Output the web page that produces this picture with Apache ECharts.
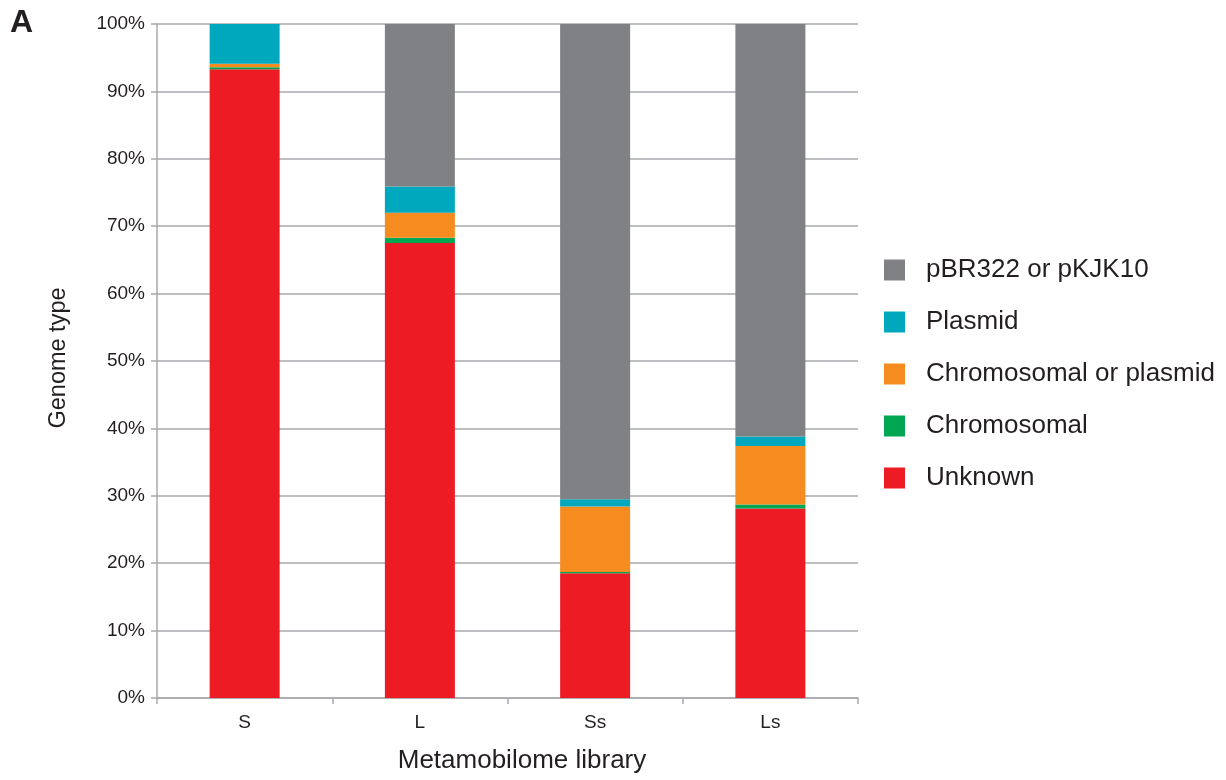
<!DOCTYPE html>
<html><head><meta charset="utf-8">
<script src="https://cdn.jsdelivr.net/npm/echarts@6/dist/echarts.min.js"></script>
<style>html,body{margin:0;padding:0;background:#fff}#c{width:1226px;height:780px}</style>
</head><body><div id="c"></div>
<script>
const categories = ['S', 'L', 'Ss', 'Ls'];
const unknown = [93.3, 67.5, 18.5, 28.1];
const chromosomal = [0.3, 0.8, 0.2, 0.6];
const chromOrPlasmid = [0.5, 3.7, 9.7, 8.7];
const plasmid = [5.9, 3.9, 1.1, 1.4];
const pbr = [0.0, 24.1, 70.5, 61.2];
const yTicks = ['0%','10%','20%','30%','40%','50%','60%','70%','80%','90%','100%'];

const font = 'Liberation Sans, Arial, Helvetica, sans-serif';
const chart = echarts.init(document.getElementById('c'), null, {renderer: 'canvas'});
function s(name, data, color) {
  return {name, type: 'bar', stack: 'g', data, barWidth: 70, itemStyle: {color}, emphasis: {disabled: true}};
}
chart.setOption({
  animation: false,
  grid: {left: 157, right: 368, top: 24, bottom: 82, containLabel: false},
  graphic: [{type: 'text', left: 10, top: 7, style: {text: 'A', font: 'bold 32px ' + font, fill: '#231f20'}}],
  legend: {
    orient: 'vertical', left: 879, top: 252, itemWidth: 21, itemHeight: 21, itemGap: 26,
    icon: 'rect',
    textStyle: {fontSize: 26, fontFamily: font, color: '#231f20', padding: [0, 0, 0, 16]},
    data: ['pBR322 or pKJK10', 'Plasmid', 'Chromosomal or plasmid', 'Chromosomal', 'Unknown']
  },
  xAxis: {
    type: 'category', data: categories,
    name: 'Metamobilome library', nameLocation: 'middle', nameGap: 50,
    nameTextStyle: {fontSize: 26, fontFamily: font, color: '#231f20', padding: [0, 0, 0, 29]},
    axisLine: {lineStyle: {color: '#a7a9ac', width: 1.5}},
    axisTick: {show: true, length: 6, lineStyle: {color: '#a7a9ac', width: 1.5}},
    axisLabel: {fontSize: 19, fontFamily: font, color: '#231f20', margin: 15}
  },
  yAxis: {
    type: 'value', min: 0, max: 100, interval: 10,
    name: 'Genome type', nameLocation: 'middle', nameGap: 86, nameRotate: 90,
    nameTextStyle: {fontSize: 23.5, fontFamily: font, color: '#231f20', padding: [0, 0, 0, 6]},
    axisLine: {show: true, lineStyle: {color: '#a7a9ac', width: 1.5}},
    axisTick: {show: true, length: 6, lineStyle: {color: '#a7a9ac', width: 1.5}},
    axisLabel: {fontSize: 19, fontFamily: font, color: '#231f20', margin: 12,
      formatter: (v) => yTicks[Math.round(v / 10)]},
    splitLine: {lineStyle: {color: '#a7a9ac', width: 1.5}}
  },
  series: [
    s('Unknown', unknown, '#ed1c24'),
    s('Chromosomal', chromosomal, '#00a651'),
    s('Chromosomal or plasmid', chromOrPlasmid, '#f68b1f'),
    s('Plasmid', plasmid, '#00a8be'),
    s('pBR322 or pKJK10', pbr, '#808184')
  ]
});
</script></body></html>
